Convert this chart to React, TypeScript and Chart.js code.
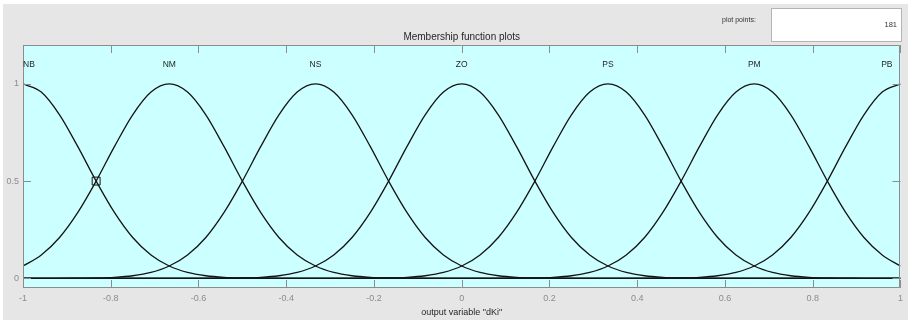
import React, { useEffect, useRef } from "react";
import { Chart, registerables } from "chart.js";

Chart.register(...registerables);

// x sample positions (step 1/24 from -1 to 1)
const xValues = [
  -1, -0.9583, -0.9167, -0.875, -0.8333, -0.7917, -0.75, -0.7083, -0.6667, -0.625,
  -0.5833, -0.5417, -0.5, -0.4583, -0.4167, -0.375, -0.3333, -0.2917, -0.25, -0.2083,
  -0.1667, -0.125, -0.0833, -0.0417, 0, 0.0417, 0.0833, 0.125, 0.1667, 0.2083,
  0.25, 0.2917, 0.3333, 0.375, 0.4167, 0.4583, 0.5, 0.5417, 0.5833, 0.625,
  0.6667, 0.7083, 0.75, 0.7917, 0.8333, 0.875, 0.9167, 0.9583, 1,
];

const mfNames = ["NB", "NM", "NS", "ZO", "PS", "PM", "PB"];
const mfCenters = [-1, -0.6667, -0.3333, 0, 0.3333, 0.6667, 1];

const seriesNB = [
  1, 0.958, 0.841, 0.677, 0.5, 0.339, 0.21, 0.12, 0.063, 0.03,
  0.013, 0.005, 0.002, 0.001, 0, 0, 0, 0, 0, 0,
  0, 0, 0, 0, 0, 0, 0, 0, 0, 0,
  0, 0, 0, 0, 0, 0, 0, 0, 0, 0,
  0, 0, 0, 0, 0, 0, 0, 0, 0,
];
const seriesNM = [
  0.063, 0.12, 0.21, 0.339, 0.5, 0.677, 0.841, 0.958, 1, 0.958,
  0.841, 0.677, 0.5, 0.339, 0.21, 0.12, 0.063, 0.03, 0.013, 0.005,
  0.002, 0.001, 0, 0, 0, 0, 0, 0, 0, 0,
  0, 0, 0, 0, 0, 0, 0, 0, 0, 0,
  0, 0, 0, 0, 0, 0, 0, 0, 0,
];
const seriesNS = [
  0, 0, 0, 0.001, 0.002, 0.005, 0.013, 0.03, 0.063, 0.12,
  0.21, 0.339, 0.5, 0.677, 0.841, 0.958, 1, 0.958, 0.841, 0.677,
  0.5, 0.339, 0.21, 0.12, 0.063, 0.03, 0.013, 0.005, 0.002, 0.001,
  0, 0, 0, 0, 0, 0, 0, 0, 0, 0,
  0, 0, 0, 0, 0, 0, 0, 0, 0,
];
const seriesZO = [
  0, 0, 0, 0, 0, 0, 0, 0, 0, 0,
  0, 0.001, 0.002, 0.005, 0.013, 0.03, 0.063, 0.12, 0.21, 0.339,
  0.5, 0.677, 0.841, 0.958, 1, 0.958, 0.841, 0.677, 0.5, 0.339,
  0.21, 0.12, 0.063, 0.03, 0.013, 0.005, 0.002, 0.001, 0, 0,
  0, 0, 0, 0, 0, 0, 0, 0, 0,
];
const seriesPS = [
  0, 0, 0, 0, 0, 0, 0, 0, 0, 0,
  0, 0, 0, 0, 0, 0, 0, 0, 0, 0.001,
  0.002, 0.005, 0.013, 0.03, 0.063, 0.12, 0.21, 0.339, 0.5, 0.677,
  0.841, 0.958, 1, 0.958, 0.841, 0.677, 0.5, 0.339, 0.21, 0.12,
  0.063, 0.03, 0.013, 0.005, 0.002, 0.001, 0, 0, 0,
];
const seriesPM = [
  0, 0, 0, 0, 0, 0, 0, 0, 0, 0,
  0, 0, 0, 0, 0, 0, 0, 0, 0, 0,
  0, 0, 0, 0, 0, 0, 0, 0.001, 0.002, 0.005,
  0.013, 0.03, 0.063, 0.12, 0.21, 0.339, 0.5, 0.677, 0.841, 0.958,
  1, 0.958, 0.841, 0.677, 0.5, 0.339, 0.21, 0.12, 0.063,
];
const seriesPB = [
  0, 0, 0, 0, 0, 0, 0, 0, 0, 0,
  0, 0, 0, 0, 0, 0, 0, 0, 0, 0,
  0, 0, 0, 0, 0, 0, 0, 0, 0, 0,
  0, 0, 0, 0, 0, 0.001, 0.002, 0.005, 0.013, 0.03,
  0.063, 0.12, 0.21, 0.339, 0.5, 0.677, 0.841, 0.958, 1,
];

const allSeries = [seriesNB, seriesNM, seriesNS, seriesZO, seriesPS, seriesPM, seriesPB];

const xTicks = [-1, -0.8, -0.6, -0.4, -0.2, 0, 0.2, 0.4, 0.6, 0.8, 1];
const xTickLabels = ["-1", "-0.8", "-0.6", "-0.4", "-0.2", "0", "0.2", "0.4", "0.6", "0.8", "1"];
const yTicks = [0, 0.5, 1];
const yTickLabels = ["0", "0.5", "1"];

const titleText = "Membership function plots";
const xLabelText = 'output variable "dKi"';
const plotPointsLabel = "plot points:";
const plotPointsValue = "181";
const markerX = [-0.8333];
const markerY = [0.5];
const labelLevel = 1.1;

const FONT = '"Liberation Sans", Arial, Helvetica, sans-serif';

const decorPlugin = {
  id: "decor",
  beforeDraw(chart: any) {
    const { ctx, chartArea } = chart;
    const W = chart.width;
    const H = chart.height;
    ctx.save();
    ctx.fillStyle = "#ffffff";
    ctx.fillRect(0, 0, W, H);
    ctx.fillStyle = "#e6e6e6";
    ctx.fillRect(3, 4, W - 3, H - 4);
    ctx.fillStyle = "#ccffff";
    ctx.fillRect(chartArea.left, chartArea.top, chartArea.right - chartArea.left, chartArea.bottom - chartArea.top);
    // plot points box
    ctx.fillStyle = "#ffffff";
    ctx.fillRect(771.5, 8.5, 130, 33);
    ctx.strokeStyle = "#b4b4b4";
    ctx.lineWidth = 1;
    ctx.strokeRect(771.5, 8.5, 130, 33);
    ctx.fillStyle = "#333333";
    ctx.font = "7px " + FONT;
    ctx.textBaseline = "middle";
    ctx.textAlign = "left";
    ctx.fillText(plotPointsLabel, 722, 20);
    ctx.font = "7.5px " + FONT;
    ctx.textAlign = "right";
    ctx.fillText(plotPointsValue, 897, 25);
    ctx.restore();
  },
  afterDraw(chart: any) {
    const { ctx, chartArea } = chart;
    const xs = chart.scales.x;
    const ys = chart.scales.y;
    const L = chartArea.left, R = chartArea.right, T = chartArea.top, B = chartArea.bottom;
    ctx.save();
    ctx.strokeStyle = "#8c8c8c";
    ctx.lineWidth = 1;
    ctx.beginPath();
    ctx.rect(Math.round(L) + 0.5, Math.round(T) + 0.5, Math.round(R - L) - 1, Math.round(B - T) - 1);
    ctx.stroke();
    const tl = 8;
    ctx.beginPath();
    xTicks.forEach((v) => {
      const px = Math.round(xs.getPixelForValue(v)) + 0.5;
      ctx.moveTo(px, B);
      ctx.lineTo(px, B - tl);
      ctx.moveTo(px, T);
      ctx.lineTo(px, T + tl);
    });
    yTicks.forEach((v) => {
      const py = Math.round(ys.getPixelForValue(v)) + 0.5;
      ctx.moveTo(L, py);
      ctx.lineTo(L + tl, py);
      ctx.moveTo(R, py);
      ctx.lineTo(R - tl, py);
    });
    ctx.stroke();

    // MF labels
    ctx.fillStyle = "#262626";
    ctx.font = "8.5px " + FONT;
    ctx.textBaseline = "middle";
    const ly = ys.getPixelForValue(labelLevel);
    mfNames.forEach((name, i) => {
      const px = xs.getPixelForValue(mfCenters[i]);
      if (i === 0) {
        ctx.textAlign = "left";
        ctx.fillText(name, px, ly);
      } else if (i === mfNames.length - 1) {
        ctx.textAlign = "right";
        ctx.fillText(name, px - 8, ly);
      } else {
        ctx.textAlign = "center";
        ctx.fillText(name, px, ly);
      }
    });

    // title and x label
    const cx = (L + R) / 2;
    ctx.textAlign = "center";
    ctx.font = "10px " + FONT;
    ctx.fillText(titleText, cx, 37);
    ctx.font = "9px " + FONT;
    ctx.fillText(xLabelText, cx, 313);
    ctx.restore();
  },
};

export default function App() {
  const ref = useRef<HTMLCanvasElement | null>(null);
  useEffect(() => {
    document.body.style.margin = "0";
    if (!ref.current) return;
    const datasets: any[] = allSeries.map((s, i) => ({
      label: mfNames[i],
      data: s.map((y, j) => ({ x: xValues[j], y })),
      borderColor: "#141414",
      borderWidth: 1.3,
      pointRadius: 0,
      fill: false,
      cubicInterpolationMode: "monotone",
    }));
    datasets.push({
      type: "scatter",
      label: "marker",
      data: markerX.map((x, i) => ({ x, y: markerY[i] })),
      pointStyle: "rect",
      pointRadius: 5.6,
      borderColor: "#141414",
      borderWidth: 1,
      backgroundColor: "rgba(0,0,0,0)",
    });
    const chart = new Chart(ref.current, {
      type: "line",
      data: { datasets },
      options: {
        animation: false,
        responsive: false,
        maintainAspectRatio: false,
        layout: { padding: { top: 45, right: 5, left: 0, bottom: 0 } },
        plugins: { legend: { display: false }, tooltip: { enabled: false }, title: { display: false } },
        scales: {
          x: {
            type: "linear",
            min: -1,
            max: 1,
            grid: { display: false, drawTicks: false },
            border: { display: false },
            afterBuildTicks: (scale: any) => {
              scale.ticks = xTicks.map((v) => ({ value: v }));
            },
            afterFit: (scale: any) => {
              scale.height = 32;
            },
            ticks: {
              color: "#8c8c8c",
              font: { family: FONT, size: 9 },
              padding: 5,
              maxRotation: 0,
              autoSkip: false,
              callback: (v: any) => {
                const i = xTicks.findIndex((t) => Math.abs(t - Number(v)) < 1e-6);
                return i >= 0 ? xTickLabels[i] : "";
              },
            },
          },
          y: {
            type: "linear",
            min: -0.05,
            max: 1.2,
            grid: { display: false, drawTicks: false },
            border: { display: false },
            afterBuildTicks: (scale: any) => {
              scale.ticks = yTicks.map((v) => ({ value: v }));
            },
            afterFit: (scale: any) => {
              scale.width = 23;
            },
            ticks: {
              color: "#8c8c8c",
              font: { family: FONT, size: 9 },
              padding: 4,
              autoSkip: false,
              callback: (v: any) => {
                const i = yTicks.findIndex((t) => Math.abs(t - Number(v)) < 1e-6);
                return i >= 0 ? yTickLabels[i] : "";
              },
            },
          },
        },
      } as any,
      plugins: [decorPlugin],
    });
    return () => chart.destroy();
  }, []);
  return (
    <div style={{ width: 908, height: 320 }}>
      <canvas ref={ref} width={908} height={320} style={{ display: "block" }} />
    </div>
  );
}
